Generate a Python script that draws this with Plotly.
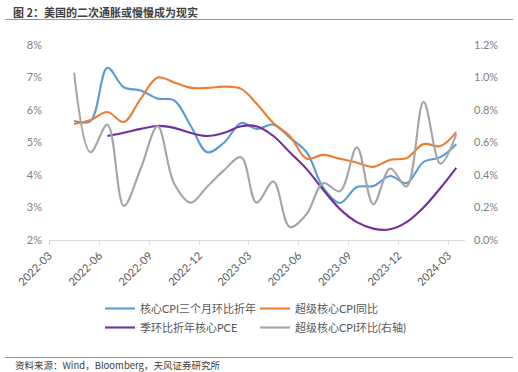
import pandas as pd
import plotly.graph_objects as go

# ---- data ----
months = ["2022-04", "2022-05", "2022-06", "2022-07", "2022-08", "2022-09",
          "2022-10", "2022-11", "2022-12", "2023-01", "2023-02", "2023-03",
          "2023-04", "2023-05", "2023-06", "2023-07", "2023-08", "2023-09",
          "2023-10", "2023-11", "2023-12", "2024-01", "2024-02", "2024-03"]

core_cpi_3m_ann = [5.66, 5.66, 7.30, 6.70, 6.60, 6.35, 6.30, 5.50, 4.70, 5.00,
                   5.60, 5.42, 5.55, 5.15, 4.70, 3.62, 3.14, 3.63, 3.66, 3.97,
                   3.75, 4.40, 4.55, 4.95]
supercore_cpi_yoy = [5.57, 5.69, 5.94, 5.63, 6.35, 7.00, 6.85, 6.68, 6.68, 6.72,
                     6.65, 6.20, 5.60, 5.20, 4.50, 4.62, 4.50, 4.38, 4.25, 4.47,
                     4.52, 4.95, 4.89, 5.32]
core_pce_3m_ann = [None, None, 5.20, 5.30, 5.42, 5.51, 5.45, 5.29, 5.20, 5.30,
                   5.50, 5.50, 5.20, 4.70, 4.18, 3.55, 2.95, 2.55, 2.35, 2.33,
                   2.55, 3.00, 3.60, 4.22]
supercore_cpi_mom = [1.03, 0.54, 0.71, 0.21, 0.44, 0.70, 0.35, 0.23, 0.33, 0.43,
                     0.51, 0.23, 0.36, 0.08, 0.16, 0.35, 0.30, 0.57, 0.22, 0.44,
                     0.33, 0.85, 0.47, 0.65]

names = ["核心CPI三个月环比折年", "超级核心CPI同比", "季环比折年核心PCE", "超级核心CPI环比(右轴)"]
colors = ["#5B9BD5", "#ED7D31", "#7030A0", "#A5A5A5"]

left_ticks = [2, 3, 4, 5, 6, 7, 8]
right_ticks = [0.0, 0.2, 0.4, 0.6, 0.8, 1.0, 1.2]

title_text = "图 2：美国的二次通胀或慢慢成为现实"
source_text = "资料来源：Wind，Bloomberg，天风证券研究所"

# points sit in the middle of each month (Excel "between tick marks")
dates = pd.to_datetime(months, format="%Y-%m") + pd.Timedelta(days=15)

FONT = "Lato, 'Noto Sans CJK SC', sans-serif"
PW, PH, PL, PT = 416, 195, 49, 45  # plot width/height/left/top in px


def px_x(x):
    return (x - PL) / PW


def px_y(y):
    return 1 - (y - PT) / PH


fig = go.Figure()
line_w = 2.1

fig.add_trace(go.Scatter(x=dates, y=supercore_cpi_mom, name=names[3], yaxis="y2",
                         mode="lines", line=dict(color=colors[3], width=line_w, shape="spline", smoothing=1),
                         legend="legend2", legendrank=2))
fig.add_trace(go.Scatter(x=dates, y=core_cpi_3m_ann, name=names[0],
                         mode="lines", line=dict(color=colors[0], width=line_w, shape="spline", smoothing=1),
                         legend="legend", legendrank=1))
fig.add_trace(go.Scatter(x=dates, y=supercore_cpi_yoy, name=names[1],
                         mode="lines", line=dict(color=colors[1], width=line_w, shape="spline", smoothing=1),
                         legend="legend2", legendrank=1))
fig.add_trace(go.Scatter(x=dates, y=core_pce_3m_ann, name=names[2],
                         mode="lines", line=dict(color=colors[2], width=line_w, shape="spline", smoothing=1),
                         legend="legend", legendrank=2))

legend_common = dict(orientation="v", yanchor="top", xanchor="left", bgcolor="rgba(0,0,0,0)",
                     font=dict(family=FONT, size=11, color="#595959"),
                     tracegroupgap=0, itemwidth=30)

fig.update_layout(
    width=518, height=372,
    margin=dict(l=PL, r=518 - PL - PW, t=PT, b=372 - PT - PH, autoexpand=False),
    paper_bgcolor="white", plot_bgcolor="white",
    font=dict(family=FONT, size=11, color="#595959"),
    showlegend=True,
    legend=dict(x=px_x(100), y=px_y(294), **legend_common),
    legend2=dict(x=px_x(255), y=px_y(294), **legend_common),
    xaxis=dict(type="date", range=["2022-03-01", "2024-04-01"],
               tick0="2022-03-01", dtick="M3", tickformat="%Y-%m", tickangle=-45,
               showgrid=False, showline=True, linecolor="#D9D9D9", linewidth=1,
               ticks="outside", ticklen=4, tickcolor="#D9D9D9",
               tickfont=dict(family=FONT, size=11, color="#595959"), zeroline=False),
    yaxis=dict(range=[2, 8], tickvals=left_ticks, ticktext=[f"{v}%" for v in left_ticks],
               showgrid=False, zeroline=False, showline=False, ticks="",
               ticklabelstandoff=6,
               tickfont=dict(family=FONT, size=11, color="#7F7F7F")),
    yaxis2=dict(range=[0, 1.2], overlaying="y", side="right",
                tickvals=right_ticks, ticktext=[f"{v:.1f}%" for v in right_ticks],
                showgrid=False, zeroline=False, showline=False, ticks="",
                ticklabelstandoff=8,
                tickfont=dict(family=FONT, size=11, color="#7F7F7F")),
)

# title, rules and source note
fig.add_annotation(text=f"<b>{title_text}</b>", xref="paper", yref="paper",
                   x=px_x(11), y=px_y(12), xanchor="left", yanchor="middle",
                   showarrow=False, font=dict(family="'Noto Sans CJK SC'", size=11, color="#404040"))
fig.add_shape(type="line", xref="paper", yref="paper",
              x0=px_x(5), x1=px_x(513), y0=px_y(19.5), y1=px_y(19.5),
              line=dict(color="#ED7D31", width=1))
fig.add_shape(type="line", xref="paper", yref="paper",
              x0=px_x(5), x1=px_x(513), y0=px_y(357.5), y1=px_y(357.5),
              line=dict(color="#ED7D31", width=1))
fig.add_annotation(text=source_text, xref="paper", yref="paper",
                   x=px_x(13), y=px_y(365), xanchor="left", yanchor="middle",
                   showarrow=False, font=dict(family="'Noto Sans CJK SC'", size=9.5, color="#404040"))

fig.write_html("out.html", config={"displayModeBar": False},
               post_script="document.body.style.margin='0px';document.body.style.overflow='hidden';")
